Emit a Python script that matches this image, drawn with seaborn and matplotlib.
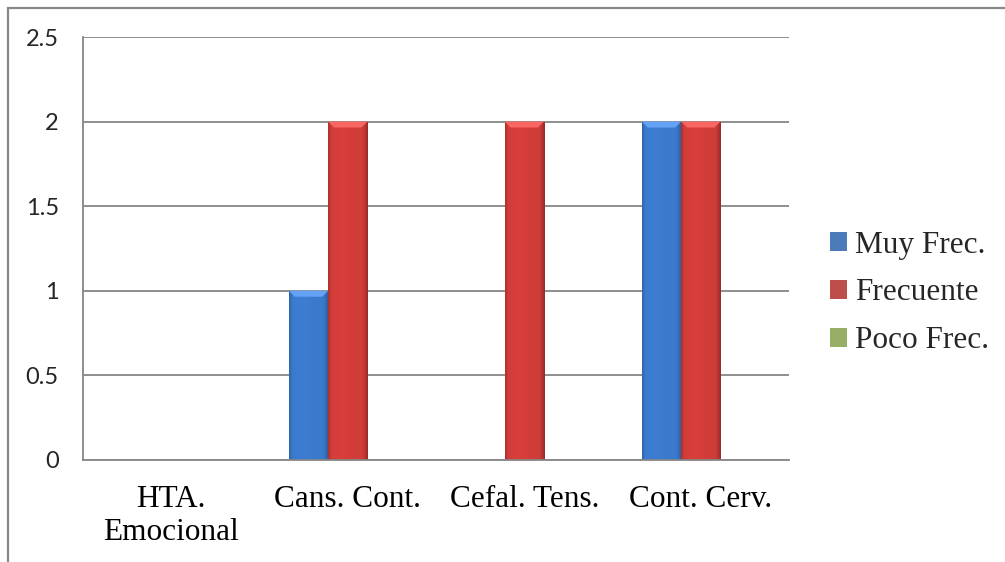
import numpy as np
import pandas as pd
import matplotlib
matplotlib.use("Agg")
import matplotlib.pyplot as plt
import seaborn as sns

# chart data
categorias = ["HTA.\nEmocional", "Cans. Cont.", "Cefal. Tens.", "Cont. Cerv."]
series = ["Muy Frec.", "Frecuente", "Poco Frec."]
muy_frec = [0, 1, 0, 2]
frecuente = [0, 2, 2, 2]
poco_frec = [0, 0, 0, 0]
y_ticks = [0, 0.5, 1, 1.5, 2, 2.5]
y_labels = ["0", "0.5", "1", "1.5", "2", "2.5"]

colores = ["#3a79cb", "#d03c38", "#9bbb59"]
bordes = ["#2d5c9e", "#a02e2a", "#6f8a38"]

df = pd.DataFrame({
    "Categoria": categorias * 3,
    "Serie": [s for s in series for _ in categorias],
    "Valor": muy_frec + frecuente + poco_frec,
})

sns.set_style("white")
fig = plt.figure(figsize=(10.05, 5.62), dpi=100)
ax = fig.add_axes([83 / 1005, 1 - 460 / 562, (789 - 83) / 1005, (460 - 37) / 562])

sns.barplot(data=df, x="Categoria", y="Valor", hue="Serie", palette=colores,
            width=2 / 3, gap=0, linewidth=0, ax=ax, legend=True)

# Excel-like shading on the bars
g = np.linspace(0, 1, 80)
shade = np.ones_like(g)
shade = shade + 0.04 * np.exp(-((g - 0.35) / 0.25) ** 2)
shade = np.where(g > 0.85, shade - 0.28 * ((g - 0.85) / 0.15) ** 1.5, shade)
shade = np.where(g < 0.08, shade - 0.18 * (1 - g / 0.08), shade)
for i, cont in enumerate(ax.containers):
    c = np.array(matplotlib.colors.to_rgb(colores[i]))
    img = np.clip(c[None, :] * shade[:, None], 0, 1)[None, :, :]
    for bar in cont:
        h = bar.get_height()
        if h <= 0:
            continue
        x0, w = bar.get_x(), bar.get_width()
        im = ax.imshow(img, extent=[x0, x0 + w, 0, h], aspect="auto", zorder=bar.get_zorder() + 0.1)
        im.set_clip_path(bar)
        bar.set_edgecolor(bordes[i])
        bar.set_linewidth(0.6)
        # light bevel at top
        top = np.clip(c * 1.0 + 0.16, 0, 1)
        ax.fill([x0, x0 + w, x0 + 0.85 * w, x0 + 0.15 * w], [h, h, h - 0.035, h - 0.035],
                color=top, linewidth=0, zorder=bar.get_zorder() + 0.2)

ax.set_xlim(-0.5, 3.5)
ax.set_ylim(0, 2.5)
ax.set_yticks(y_ticks)
ax.set_yticklabels(y_labels)
ax.yaxis.grid(True, color="#868686", linewidth=1.3)
ax.set_axisbelow(True)
ax.set_xlabel("")
ax.set_ylabel("")

for s in ["top", "right"]:
    ax.spines[s].set_visible(False)
for s in ["left", "bottom"]:
    ax.spines[s].set_color("#868686")
    ax.spines[s].set_linewidth(1.3)

ax.set_xticks(range(4))
ax.set_xticklabels(categorias, fontfamily="Liberation Serif", fontsize=22.5, linespacing=1.2)
ax.set_xticks([-0.5, 0.5, 1.5, 2.5, 3.5], minor=True)
ax.tick_params(axis="x", which="major", length=0, pad=18, colors="black")
ax.tick_params(axis="x", which="minor", length=6.5, width=1.3, color="#868686")
ax.tick_params(axis="y", length=6.5, width=1.3, color="#868686", labelsize=17, pad=11)
for t in ax.get_yticklabels():
    t.set_fontfamily("Lato")

handles, labels = ax.get_legend_handles_labels()
ax.legend(handles, labels, loc="center left", bbox_to_anchor=(830 / 1005, 1 - 293 / 562),
          bbox_transform=fig.transFigure, frameon=False,
          prop={"family": "Liberation Serif", "size": 22.5},
          handlelength=0.55, handleheight=0.55, handletextpad=0.26, labelspacing=0.6,
          borderaxespad=0, borderpad=0)

# outer frame (cut at right and bottom)
fig.add_artist(plt.Rectangle((7.5 / 1005, -0.2), 1.2, 1.2 - 7.5 / 562, transform=fig.transFigure,
                             fill=False, edgecolor="#888888", linewidth=1.6, clip_on=False))

fig.savefig("out.png", dpi=100)
